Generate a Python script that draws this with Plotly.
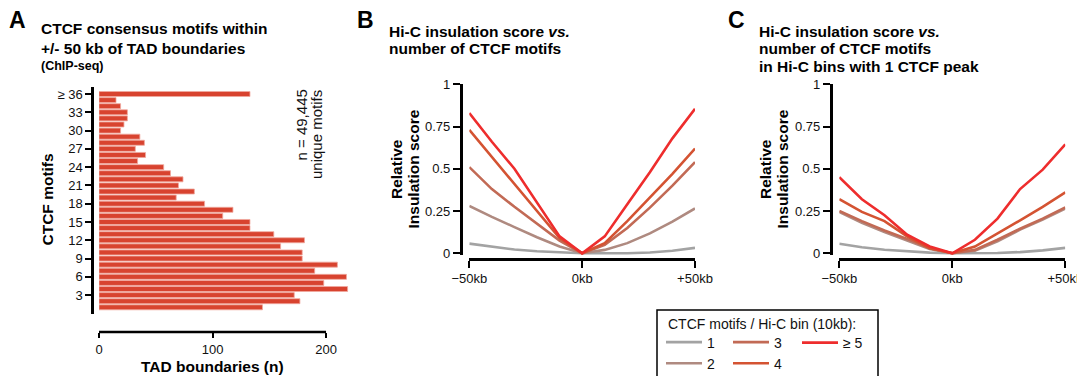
import plotly.graph_objects as go

W, H = 1085, 376
OFF = 8  # page body margin of the browser

# ---------------- data ----------------
# Panel A: CTCF motifs per TAD boundary (1 .. 35, and >=36)
motif_counts = [1, 2, 3, 4, 5, 6, 7, 8, 9, 10, 11, 12, 13, 14, 15, 16, 17, 18,
                19, 20, 21, 22, 23, 24, 25, 26, 27, 28, 29, 30, 31, 32, 33, 34, 35, 36]
tad_boundaries = [144, 177, 172, 219, 198, 218, 190, 210, 179, 179, 160, 181,
                  154, 133, 133, 109, 118, 93, 68, 84, 70, 74, 63, 57,
                  34, 41, 32, 40, 36, 19, 22, 25, 25, 19, 15, 133]
a_tickvals = [3, 6, 9, 12, 15, 18, 21, 24, 27, 30, 33, 36]
a_ticktext = ["3", "6", "9", "12", "15", "18", "21", "24", "27", "30", "33", "≥ 36"]
a_xticks = [0, 100, 200]

# Panels B/C: relative insulation score around boundaries
dist_kb = [-50, -40, -30, -20, -10, 0, 10, 20, 30, 40, 50]
series_names = ["1", "2", "3", "4", "≥ 5"]
b_scores = {
    "1":   [0.057, 0.038, 0.022, 0.012, 0.004, 0.0, 0.0, 0.0, 0.005, 0.015, 0.032],
    "2":   [0.28, 0.215, 0.155, 0.095, 0.04, 0.0, 0.02, 0.06, 0.118, 0.187, 0.265],
    "3":   [0.51, 0.38, 0.275, 0.175, 0.075, 0.0, 0.05, 0.15, 0.27, 0.40, 0.54],
    "4":   [0.73, 0.57, 0.41, 0.25, 0.09, 0.0, 0.06, 0.19, 0.33, 0.47, 0.62],
    "≥ 5": [0.83, 0.66, 0.50, 0.30, 0.10, 0.0, 0.10, 0.29, 0.48, 0.68, 0.855],
}
c_scores = {
    "1":   [0.056, 0.036, 0.021, 0.011, 0.004, 0.0, 0.0, 0.002, 0.007, 0.017, 0.032],
    "2":   [0.245, 0.18, 0.125, 0.075, 0.025, 0.0, 0.015, 0.07, 0.14, 0.20, 0.265],
    "3":   [0.25, 0.19, 0.135, 0.085, 0.03, 0.0, 0.02, 0.08, 0.145, 0.205, 0.272],
    "4":   [0.32, 0.245, 0.19, 0.10, 0.03, 0.0, 0.04, 0.115, 0.195, 0.275, 0.36],
    "≥ 5": [0.45, 0.32, 0.225, 0.11, 0.04, 0.0, 0.08, 0.205, 0.38, 0.495, 0.645],
}
line_ticks = [-50, 0, 50]
line_ticktext = ["−50kb", "0kb", "+50kb"]
score_ticks = [0, 0.25, 0.5, 0.75, 1]
score_ticktext = ["0", "0.25", "0.5", "0.75", "1"]

colors = {"1": "#a3a3a3", "2": "#af8a80", "3": "#c26a55", "4": "#d45332", "≥ 5": "#ee2d2d"}
# legend columns: (1, 2) | (3, 4) | (>=5)
legend_of = {"1": "legend", "2": "legend", "3": "legend2", "4": "legend2", "≥ 5": "legend3"}

FONT = "Liberation Sans, Arial, sans-serif"


def px(x):
    return (x - OFF) / W


def py(y):
    return 1 - (y - OFF) / H


fig = go.Figure()

fig.add_trace(go.Bar(
    x=tad_boundaries, y=motif_counts, orientation="h", width=0.82,
    marker=dict(color="#d8432f", line=dict(color="#f0a89e", width=0.8)),
    xaxis="x", yaxis="y", showlegend=False, hoverinfo="x+y"))

for name in series_names:
    fig.add_trace(go.Scatter(
        x=dist_kb, y=b_scores[name], mode="lines", name=name,
        line=dict(color=colors[name], width=2.6),
        xaxis="x2", yaxis="y2", showlegend=True, legend=legend_of[name]))
for name in series_names:
    fig.add_trace(go.Scatter(
        x=dist_kb, y=c_scores[name], mode="lines", name=name,
        line=dict(color=colors[name], width=2.6),
        xaxis="x3", yaxis="y3", showlegend=False))

tickfont = dict(family=FONT, size=13, color="#111")
axis_common = dict(showgrid=False, zeroline=False, ticks="outside", tickcolor="black",
                   tickfont=tickfont, automargin=False)

leg_common = dict(orientation="v", xanchor="left", bgcolor="rgba(0,0,0,0)",
                  font=dict(family=FONT, size=14, color="#111"), itemwidth=36,
                  tracegroupgap=0, borderwidth=0)

fig.update_layout(
    width=W, height=H, margin=dict(l=0, r=0, t=0, b=0, autoexpand=False),
    paper_bgcolor="white", plot_bgcolor="white",
    font=dict(family=FONT, color="black"),
    xaxis=dict(domain=[px(99), px(351)], range=[0, 222], anchor="free", position=py(332),
               showline=False, tickvals=a_xticks, ticklen=5, tickwidth=2, **axis_common),
    yaxis=dict(domain=[py(314), py(87)], range=[-0.1, 37.15], anchor="free", position=px(92),
               showline=True, linewidth=2.5, linecolor="black", tickvals=a_tickvals,
               ticktext=a_ticktext, ticklen=6, tickwidth=2, **axis_common),
    xaxis2=dict(domain=[px(469.3), px(695)], range=[-50, 50], anchor="free", position=py(258.8),
                showline=True, linewidth=2.5, linecolor="black", tickvals=line_ticks,
                ticktext=line_ticktext, ticklen=7, tickwidth=2, **axis_common),
    yaxis2=dict(domain=[py(255.3), py(84.3)], range=[-0.012, 1], anchor="free", position=px(460.7),
                showline=True, linewidth=2.5, linecolor="black", tickvals=score_ticks,
                ticktext=score_ticktext, ticklen=7, tickwidth=2, **axis_common),
    xaxis3=dict(domain=[px(839.3), px(1065.3)], range=[-50, 50], anchor="free", position=py(258.8),
                showline=True, linewidth=2.5, linecolor="black", tickvals=line_ticks,
                ticktext=line_ticktext, ticklen=7, tickwidth=2, **axis_common),
    yaxis3=dict(domain=[py(255.3), py(84.3)], range=[-0.012, 1], anchor="free", position=px(830.7),
                showline=True, linewidth=2.5, linecolor="black", tickvals=score_ticks,
                ticktext=score_ticktext, ticklen=7, tickwidth=2, **axis_common),
    legend=dict(x=px(661), y=py(353), yanchor="middle", **leg_common),
    legend2=dict(x=px(728), y=py(353), yanchor="middle", **leg_common),
    legend3=dict(x=px(797), y=py(343), yanchor="middle", **leg_common),
    showlegend=True,
)

# detached x-axis line of panel A (0 .. 200)
fig.add_shape(type="line", xref="x", yref="paper", x0=a_xticks[0], x1=a_xticks[-1],
              y0=py(332), y1=py(332), line=dict(color="black", width=2.5))
# legend frame
fig.add_shape(type="rect", xref="paper", yref="paper", x0=px(657), x1=px(878),
              y0=py(395), y1=py(310), line=dict(color="black", width=1.5))


def ann(text, x, y, size, xanchor="left", yanchor="middle", angle=0, color="black"):
    fig.add_annotation(text=text, x=px(x), y=py(y), xref="paper", yref="paper",
                       showarrow=False, xanchor=xanchor, yanchor=yanchor, textangle=angle,
                       font=dict(family=FONT, size=size, color=color))


# panel letters
ann("<b>A</b>", 28, 20, 23, xanchor="right")
ann("<b>B</b>", 376, 20, 23, xanchor="right")
ann("<b>C</b>", 747, 20, 23, xanchor="right")

# titles
ann("<b>CTCF consensus motifs within</b>", 39, 29, 15.5)
ann("<b>+/- 50 kb of TAD boundaries</b>", 39, 48, 15.5)
ann("<b>(ChIP-seq)</b>", 39, 66, 12.5)
ann("<b>Hi-C insulation score <i>vs.</i></b>", 387, 31, 15.5)
ann("<b>number of CTCF motifs</b>", 387, 48.5, 15.5)
ann("<b>Hi-C insulation score <i>vs.</i></b>", 757, 31, 15.5)
ann("<b>number of CTCF motifs</b>", 757, 48.5, 15.5)
ann("<b>in Hi-C bins with 1 CTCF peak</b>", 757, 66, 15.5)

# axis titles
ann("<b>CTCF motifs</b>", 47.5, 200, 15.5, xanchor="center", angle=-90)
ann("<b>TAD boundaries (n)</b>", 212.5, 366, 15.5, xanchor="center")
ann("<b>Relative</b>", 396, 169, 15.5, xanchor="center", angle=-90)
ann("<b>Insulation score</b>", 412.5, 169, 15.5, xanchor="center", angle=-90)
ann("<b>Relative</b>", 765, 169, 15.5, xanchor="center", angle=-90)
ann("<b>Insulation score</b>", 781.5, 169, 15.5, xanchor="center", angle=-90)

# n annotation
ann("n = 49,445", 301, 88, 15, xanchor="center", yanchor="top", angle=-90, color="#111")
ann("unique motifs", 316.5, 88, 15, xanchor="center", yanchor="top", angle=-90, color="#111")

# legend title
ann("CTCF motifs / Hi-C bin (10kb):", 666, 324, 14, color="#111")

fig.write_html("out.html")
